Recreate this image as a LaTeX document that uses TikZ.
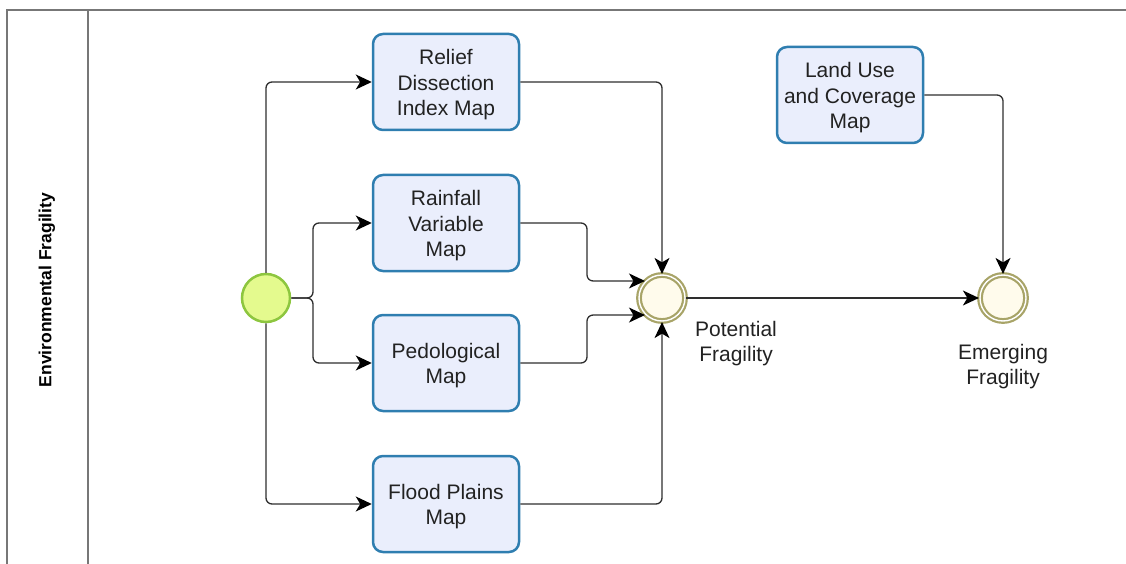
\documentclass[tikz,border=0pt]{standalone}
\usepackage{fontspec}
\setmainfont{Liberation Sans}
\usetikzlibrary{arrows.meta,calc}
\definecolor{boxfill}{HTML}{EAEEFC}
\definecolor{boxdraw}{HTML}{2F7EB0}
\definecolor{startfill}{HTML}{E4FA8E}
\definecolor{startdraw}{HTML}{8DC63F}
\definecolor{evdraw}{HTML}{A8A468}
\definecolor{evfill}{HTML}{FFFBEC}
\definecolor{linec}{HTML}{2E2E2E}
\definecolor{lanec}{HTML}{777777}
\definecolor{txt}{HTML}{222222}
\newcommand{\boxtext}[1]{\raisebox{-3pt}[\height][\depth]{\begin{tabular}{@{}c@{}}#1\end{tabular}}}
\tikzset{
  mapbox/.style={draw=boxdraw, fill=boxfill, line width=2.5pt, rounded corners=10pt,
    minimum width=146pt, minimum height=96pt, text=txt,
    font=\fontsize{21}{25.5}\selectfont, inner sep=0pt},
  startev/.style={circle, draw=startdraw, fill=startfill, line width=2.5pt, minimum size=48pt, inner sep=0pt},
  midev/.style={circle, draw=evdraw, line width=2.2pt, double=white, double distance=1.4pt, fill=evfill, minimum size=46pt, inner sep=0pt},
  evlabel/.style={align=center, text=txt, font=\fontsize{21}{25}\selectfont, inner sep=0pt},
  flow/.style={draw=linec, line width=1.3pt, rounded corners=6pt, -{Stealth[length=16pt,width=15pt,inset=4.5pt,color=black]}},
  lane/.style={draw=lanec, line width=2.5pt}
}
\begin{document}
\begin{tikzpicture}[x=1pt,y=-1pt]
\useasboundingbox (0,0) rectangle (1126,564);
% lane
\coordinate (tl) at (7,10);
\coordinate (tr) at (1126,10);
\coordinate (bl) at (7,564);
\coordinate (dt) at (88,10);
\coordinate (db) at (88,564);
\draw[lane] (bl) -- (tl) -- (tr);
\draw[lane] (dt) -- (db);
\node[rotate=90, font=\fontsize{17.5}{20}\selectfont\bfseries, inner sep=0pt] (lanelbl) at (47,290) {Environmental Fragility};
% nodes
\node[mapbox] (relief) at (446,82) {\boxtext{Relief\\Dissection\\Index Map}};
\node[mapbox] (rain) at (446,223) {\boxtext{Rainfall\\Variable\\Map}};
\node[mapbox] (pedo) at (446,363) {\boxtext{Pedological\\Map}};
\node[mapbox] (flood) at (446,504) {\boxtext{Flood Plains\\Map}};
\node[mapbox] (land) at (850,95) {\boxtext{Land Use\\and Coverage\\Map}};
\node[startev] (start) at (266,298) {};
\node[midev] (pot) at (662,298) {};
\node[midev] (emerg) at (1003,298) {};
\node[evlabel] (potl) at (736,344) {Potential\\Fragility};
\node[evlabel] (emergl) at (1003,367) {Emerging\\Fragility};
% junctions
\coordinate (j) at (313,298);
\coordinate (k) at (587,298);
% connectors
\draw[flow] (start) |- (relief);
\draw[flow] (start) |- (flood);
\draw[flow] (start.east) -- (j) |- (rain);
\draw[flow] (start.east) -- (j) |- (pedo);
\draw[flow] (relief) -| (pot);
\draw[flow] (flood) -| (pot);
\draw[flow] (rain.east) -- (rain.east -| k) |- (pot.135);
\draw[flow] (pedo.east) -- (pedo.east -| k) |- (pot.225);
\draw[flow] (pot) -- (emerg);
\draw[flow] (land) -| (emerg);
\end{tikzpicture}
\end{document}
